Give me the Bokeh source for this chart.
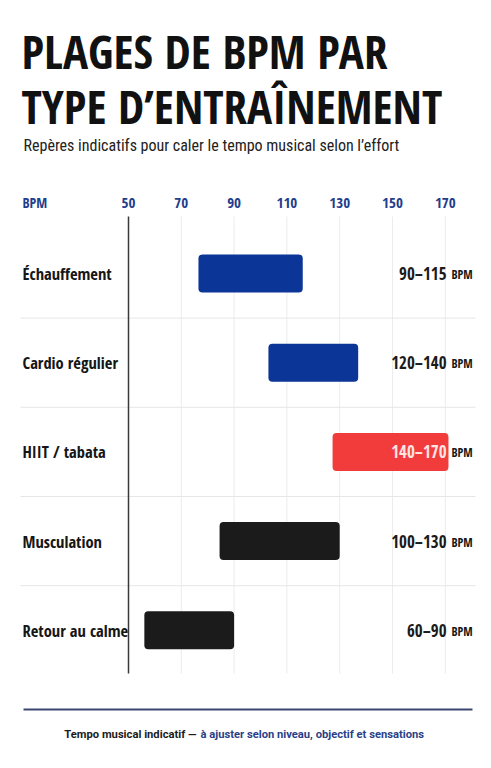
from bokeh.plotting import figure
from bokeh.models import Range1d
from bokeh.core.properties import value
from bokeh.embed import file_html
from bokeh.resources import INLINE

# ---- data ----
categories = ["Échauffement", "Cardio régulier", "HIIT / tabata", "Musculation", "Retour au calme"]
bar_low = [76.5, 103, 127.3, 84.5, 56]
bar_high = [116, 137, 171.2, 130, 90]
range_labels = ["90–115", "120–140", "140–170", "100–130", "60–90"]
bar_colors = ["#0b3597", "#0b3597", "#f23b3b", "#1b1b1b", "#1b1b1b"]
label_colors = ["#1b1b1b", "#1b1b1b", "#ffe4e4", "#1b1b1b", "#1b1b1b"]
ticks = [50, 70, 90, 110, 130, 150, 170]

# ---- layout ----
W, H = 489, 766
PXB = 2.64          # pixels per BPM
AX0 = 128           # canvas x of the first tick
x_start = ticks[0] - AX0 / PXB
x_end = x_start + W / PXB


def X(cx):
    return x_start + cx / PXB


ROW0, STEP = 273, 89.2
rows_y = [ROW0 + i * STEP for i in range(len(categories))]
GRID_TOP, GRID_BOT = 216, 673

COND = value("Open Sans Condensed")
RCOND = value("Roboto Condensed")
BLUE_TXT = "#1f3e8c"
DARK = "#161616"

p = figure(width=W, height=H, x_range=Range1d(x_start, x_end), y_range=Range1d(H, 0),
           output_backend="svg", toolbar_location=None, min_border=0,
           x_axis_location=None, y_axis_location=None)
p.grid.visible = False
p.outline_line_color = None
p.background_fill_color = "white"
p.border_fill_color = "white"

# grid lines
p.segment(x0=ticks[1:], x1=ticks[1:], y0=[GRID_TOP] * (len(ticks) - 1), y1=[GRID_BOT] * (len(ticks) - 1),
          line_color="#ececec", line_width=1)
# row separators
seps = [(rows_y[i] + rows_y[i + 1]) / 2 for i in range(len(rows_y) - 1)]
p.segment(x0=[X(20)] * len(seps), x1=[X(475)] * len(seps), y0=seps, y1=seps,
          line_color="#e6e6e6", line_width=1)
# baseline axis at first tick
p.segment(x0=[ticks[0]], x1=[ticks[0]], y0=[GRID_TOP], y1=[GRID_BOT], line_color="#3a3a3a", line_width=1.5)

# bars
p.hbar(y=rows_y, left=bar_low, right=bar_high, height=38, fill_color=bar_colors,
       line_color=None, border_radius=4)

# tick labels
p.text(x=ticks, y=[202] * len(ticks), text=[str(t) for t in ticks], text_font=COND,
       text_font_size="15px", text_font_style="bold", text_color=BLUE_TXT,
       text_align="center", text_baseline="middle")
p.text(x=[X(22)], y=[202], text=["BPM"], text_font=COND, text_font_size="14px",
       text_font_style="bold", text_color=BLUE_TXT, text_align="left", text_baseline="middle")

# category labels
p.text(x=[X(22)] * len(categories), y=rows_y, text=categories, text_font=COND,
       text_font_size="16.5px", text_font_style="bold", text_color=DARK,
       text_align="left", text_baseline="middle")

# range labels
p.text(x=[X(446)] * len(categories), y=rows_y, text=range_labels, text_font=COND,
       text_font_size="17px", text_font_style="bold", text_color=label_colors,
       text_align="right", text_baseline="middle")
p.text(x=[X(451)] * len(categories), y=[r + 1 for r in rows_y], text=["BPM"] * len(categories),
       text_font=COND, text_font_size="12px", text_font_style="bold", text_color=DARK,
       text_align="left", text_baseline="middle")

# header
p.text(x=[X(21), X(21)], y=[50, 105], text=["PLAGES DE BPM PAR", "TYPE D’ENTRAÎNEMENT"],
       text_font=COND, text_font_size="47px", text_font_style="bold", text_color="#111111",
       text_align="left", text_baseline="middle")
p.text(x=[X(23)], y=[145], text=["Repères indicatifs pour caler le tempo musical selon l’effort"],
       text_font=RCOND, text_font_size="16px", text_color="#222222",
       text_align="left", text_baseline="middle")

# footer
p.segment(x0=[X(23)], x1=[X(472)], y0=[709], y1=[709], line_color="#3a4670", line_width=2)
p.text(x=[X(196)], y=[734], text=["Tempo musical indicatif —"], text_font=value("Roboto"),
       text_font_size="11.2px", text_font_style="bold", text_color="#1b1b1b",
       text_align="right", text_baseline="middle")
p.text(x=[X(200)], y=[734], text=["à ajuster selon niveau, objectif et sensations"],
       text_font=value("Roboto"), text_font_size="11.2px", text_font_style="bold",
       text_color="#2a3f88", text_align="left", text_baseline="middle")

open("out.html", "w").write(file_html(p, INLINE))
